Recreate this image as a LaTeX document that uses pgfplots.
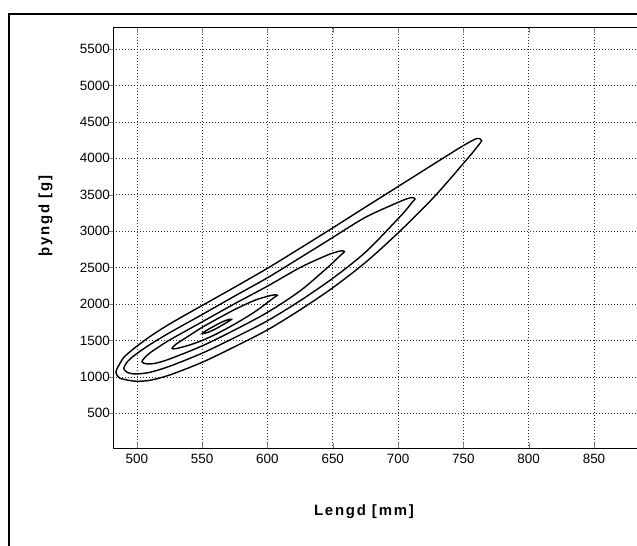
\documentclass[border=0pt]{standalone}
\usepackage{fontspec}
\setmainfont{Liberation Sans}
\newfontfamily\labelfont[LetterSpace=12]{Liberation Sans}
\usepackage{pgfplots}
\pgfplotsset{compat=1.18}
\pgfplotsset{contour line/.style={black, line width=1.4bp, smooth, tension=0.5, mark=none}}

\begin{document}
\begin{tikzpicture}
\useasboundingbox (0,0) rectangle (637bp,546bp);
\clip (0,0) rectangle (637bp,546bp);
% figure frame
\draw[line width=2bp] (9bp,-5bp) -- (9bp,532.3bp) -- (660bp,532.3bp);
\begin{axis}[
  at={(113.3bp,97.7bp)}, anchor=south west,
  scale only axis, width=546bp, height=420.6bp,
  xmin=482, xmax=900, ymin=20, ymax=5792,
  xtick={500,550,...,850}, ytick={500,1000,...,5500},
  scaled ticks=false,
  /pgf/number format/1000 sep={},
  /pgf/number format/assume math mode=true,
  tick label style={font=\fontsize{13.5}{15}\selectfont},
  xticklabel style={yshift=-2.5bp},
  label style={font=\labelfont\bfseries\fontsize{15}{18}\selectfont},
  xlabel={Lengd [mm]}, ylabel={þyngd [g]},
  xlabel style={at={(axis description cs:0.4591,-0.1507)}, anchor=center},
  ylabel style={at={(axis description cs:-0.1242,0.5523)}, anchor=center},
  axis line style={line width=0.9bp},
  tick align=inside, major tick length=5.5bp,
  ytick pos=left,
  every major y tick/.append style={xshift=-5.5bp},
  grid=major,
  major grid style={black!80, line width=0.55bp, dash pattern=on 0.7bp off 2.3bp},
]
% outermost contour
\addplot[contour line] coordinates {
  (550,1980) (575,2232) (600,2490) (625,2765) (650,3045) (675,3330)
  (700,3612) (725,3895) (745,4120) (752,4195) (757,4245) (760.5,4272)
  (763,4265) (764,4240) (763,4212) (760,4143) (756,4055) (750,3930)
  (740,3720) (725,3420) (700,2975) (675,2570)
  (650,2223) (625,1920) (600,1645) (575,1415) (550,1200) (525,1025)
  (510,953) (500,940) (495,949) (490,967) (487,983) (485,1018) (484,1060)
  (485,1118) (487,1183) (490,1267) (495,1349) (500,1420) (510,1553)
  (525,1725) (550,1980)
};
% second contour
\addplot[contour line] coordinates {
  (550,1855) (575,2110) (600,2360) (625,2635) (650,2913) (675,3190)
  (700,3395) (707,3445) (711,3462) (713,3440) (711,3400) (707,3310)
  (700,3170) (675,2710) (650,2353) (625,2045) (600,1770)
  (575,1540) (550,1325) (525,1145) (510,1063) (500,1040) (495,1049)
  (492,1070) (490,1117)
  (492,1190) (495,1249) (500,1320) (510,1443) (525,1605) (550,1855)
};
% third contour
\addplot[contour line] coordinates {
  (550,1755) (575,2005) (600,2245) (625,2500) (645,2665) (653,2715)
  (657,2730) (659,2718) (656,2670) (652,2600)
  (645,2485) (625,2180) (600,1885) (575,1645) (550,1425)
  (525,1245) (515,1190) (510,1178) (506,1184) (504,1209)
  (506,1264) (510,1328) (515,1390) (525,1505) (550,1755)
};
% fourth contour
\addplot[contour line] coordinates {
  (561,1790) (575,1925) (590,2049) (600,2105) (605,2125) (607.5,2120)
  (605,2088) (600,2020) (590,1889) (575,1725) (561,1590) (550,1500)
  (540,1435) (530,1388) (527,1392)
  (530,1448) (540,1565) (550,1680) (561,1790)
};
% innermost contour
\addplot[contour line] coordinates {
  (561,1715) (568,1775) (572.5,1790) (568,1739) (561,1665) (554,1608)
  (550,1595) (554,1644) (561,1715)
};
\end{axis}
\end{tikzpicture}
\end{document}
